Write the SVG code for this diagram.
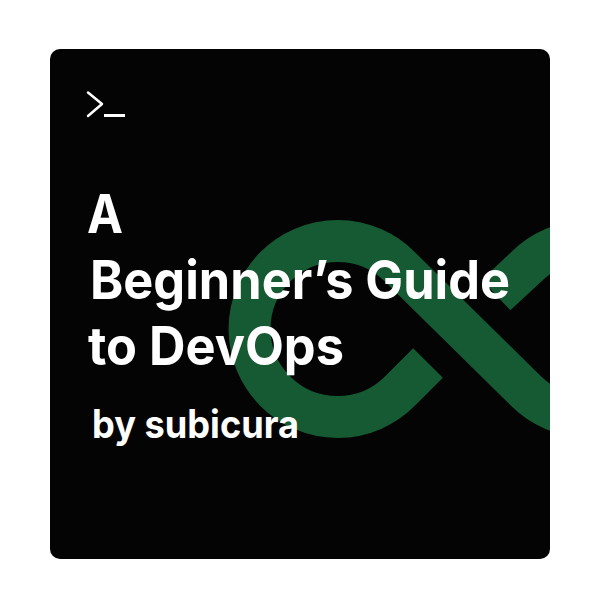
<svg xmlns="http://www.w3.org/2000/svg" width="600" height="600" viewBox="0 0 600 600">
<style>
.t{font-family:"Inter","Liberation Sans",sans-serif;font-weight:700;fill:#fff}
.g{fill:none;stroke:#155a33;stroke-width:42}
</style>
<defs><clipPath id="c"><rect x="50" y="49" width="500" height="510" rx="10"/></clipPath></defs>
<rect width="600" height="600" fill="#fff"/>
<rect x="50" y="49" width="500" height="510" rx="10" fill="#040404"/>
<g clip-path="url(#c)">
<path class="g" d="M428 363L400 391A88 88 0 1 1 400 267L526 391A88 88 0 0 0 650 391"/>
<path class="g" d="M496 295L526 267A88 88 0 0 1 650 267"/>
</g>
<path d="M88 92.500L102 104L88 116" fill="none" stroke="#fff" stroke-width="2.500" stroke-linecap="round" stroke-linejoin="round"/>
<rect x="104" y="114" width="21" height="3" fill="#fff"/>
<text class="t" x="87" y="233" font-size="53" textLength="36" lengthAdjust="spacingAndGlyphs">A</text>
<text class="t" x="90" y="299" font-size="53" textLength="420" lengthAdjust="spacingAndGlyphs">Beginner’s Guide</text>
<text class="t" x="88" y="365" font-size="53" textLength="256" lengthAdjust="spacingAndGlyphs">to DevOps</text>
<text class="t" x="92" y="438" font-size="39" textLength="207" lengthAdjust="spacingAndGlyphs">by subicura</text>
</svg>
